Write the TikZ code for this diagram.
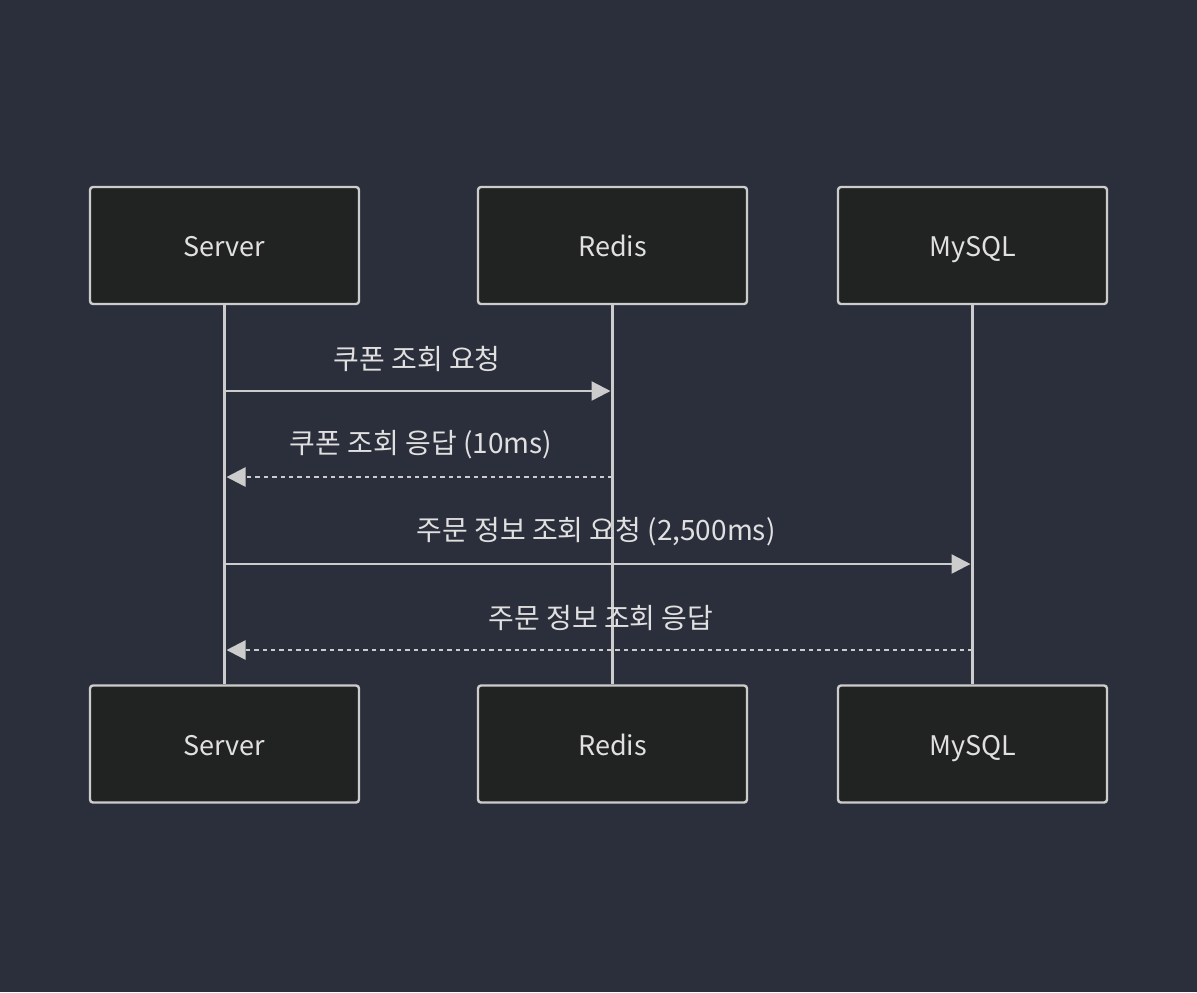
\documentclass[tikz,border=0pt]{standalone}
\usepackage{fontspec}
\setmainfont{Noto Sans CJK KR}
\usetikzlibrary{arrows.meta}
\definecolor{bgcol}{HTML}{2B2F3B}
\definecolor{boxcol}{HTML}{212222}
\definecolor{linecol}{HTML}{CCCCCC}
\definecolor{txtcol}{HTML}{E0E0E0}
\tikzset{
  actor/.style={draw=linecol, fill=boxcol, line width=1.2pt, rounded corners=1.5pt,
    minimum width=134.5pt, minimum height=58.5pt, text=txtcol, text height=12pt, text depth=1pt,
    font=\fontsize{13.5}{16}\selectfont},
  life/.style={draw=linecol, line width=1.3pt},
  msg/.style={draw=linecol, line width=1.2pt, -{Triangle[length=9.5pt,width=9.5pt]}, shorten >=1pt},
  reply/.style={msg, dash pattern=on 2.2pt off 2pt},
  msglabel/.style={text=txtcol, font=\fontsize{14}{16}\selectfont}
}
\begin{document}
\begin{tikzpicture}[x=0.5pt,y=-0.5pt]
  \fill[bgcol] (0,0) rectangle (1197,992);
  \useasboundingbox (0,0) rectangle (1197,992);

  \node[actor] (srvT) at (224.5,245.5) {Server};
  \node[actor] (redT) at (612.5,245.5) {Redis};
  \node[actor] (sqlT) at (972.5,245.5) {MySQL};
  \node[actor] (srvB) at (224.5,744) {Server};
  \node[actor] (redB) at (612.5,744) {Redis};
  \node[actor] (sqlB) at (972.5,744) {MySQL};

  \draw[life] (srvT) -- (srvB);
  \draw[life] (redT) -- (redB);
  \draw[life] (sqlT) -- (sqlB);

  \node[msglabel] (m1) at (417,359) {쿠폰 조회 요청};
  \draw[msg] (srvT.south |- 0,391) -- (redT.south |- 0,391);

  \node[msglabel] (m2) at (421,445) {쿠폰 조회 응답 (10ms)};
  \draw[reply] (redT.south |- 0,477) -- (srvT.south |- 0,477);

  \node[msglabel] (m3) at (596,532) {주문 정보 조회 요청 (2,500ms)};
  \draw[msg] (srvT.south |- 0,564) -- (sqlT.south |- 0,564);

  \node[msglabel] (m4) at (601,618) {주문 정보 조회 응답};
  \draw[reply] (sqlT.south |- 0,650) -- (srvT.south |- 0,650);
\end{tikzpicture}
\end{document}
